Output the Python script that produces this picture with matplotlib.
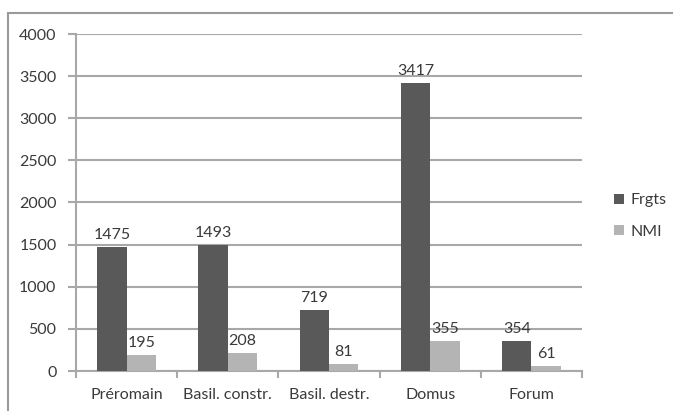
import matplotlib
matplotlib.use("Agg")
import matplotlib.pyplot as plt
import numpy as np
from matplotlib.patches import Rectangle

# Données
categories = ["Préromain", "Basil. constr.", "Basil. destr.", "Domus", "Forum"]
frgts = [1475, 1493, 719, 3417, 354]
nmi = [195, 208, 81, 355, 61]

plt.rcParams['font.family'] = ['Lato', 'DejaVu Sans']
txt = '#3a3a3a'
grid_c = '#a8a8a8'
fs = 11.5

fig = plt.figure(figsize=(6.73, 4.11), dpi=100)
ax = fig.add_axes([76 / 673, 1 - 371 / 411, (582 - 76) / 673, (371 - 34) / 411])

# cadre du graphique
fig.patches.append(Rectangle((8 / 673, -0.05), 1.1, 1 - 13 / 411 + 0.05,
                             transform=fig.transFigure, fill=False,
                             edgecolor='#9a9a9a', linewidth=1.5))

x = np.arange(len(categories))
w = 0.29
b1 = ax.bar(x - w / 2, frgts, w, color='#595959', label='Frgts', zorder=3)
b2 = ax.bar(x + w / 2, nmi, w, color='#b4b4b4', label='NMI', zorder=3)

for bars, vals in ((b1, frgts), (b2, nmi)):
    for r, v in zip(bars, vals):
        ax.text(r.get_x() + r.get_width() / 2, v + 60, str(v), ha='center',
                va='bottom', fontsize=fs, color=txt)

ax.set_xlim(-0.5, len(categories) - 0.5)
ax.set_ylim(0, 4000)
ax.set_yticks(np.arange(0, 4001, 500))
ax.yaxis.grid(True, color=grid_c, linewidth=1.5, zorder=0)
ax.set_axisbelow(True)

ax.set_xticks(x)
ax.set_xticklabels(categories, fontsize=fs, color=txt)
ax.tick_params(axis='x', length=0, pad=12)
ax.set_xticks(np.arange(-0.5, len(categories)), minor=True)
ax.tick_params(axis='x', which='minor', length=5, color=grid_c, width=1.5)
ax.tick_params(axis='y', length=6, color=grid_c, width=1.5, labelsize=fs,
               labelcolor=txt, pad=8)

for s in ('top', 'right'):
    ax.spines[s].set_visible(False)
for s in ('left', 'bottom'):
    ax.spines[s].set_color(grid_c)
    ax.spines[s].set_linewidth(1.5)

leg = fig.legend(handles=[b1, b2], loc='upper left',
                 bbox_to_anchor=(600 / 673, 1 - 179 / 411), frameon=False,
                 fontsize=fs, handlelength=0.6, handleheight=0.6,
                 handletextpad=0.4, labelspacing=1.1)
for t in leg.get_texts():
    t.set_color(txt)

fig.savefig('out.png', dpi=100)
